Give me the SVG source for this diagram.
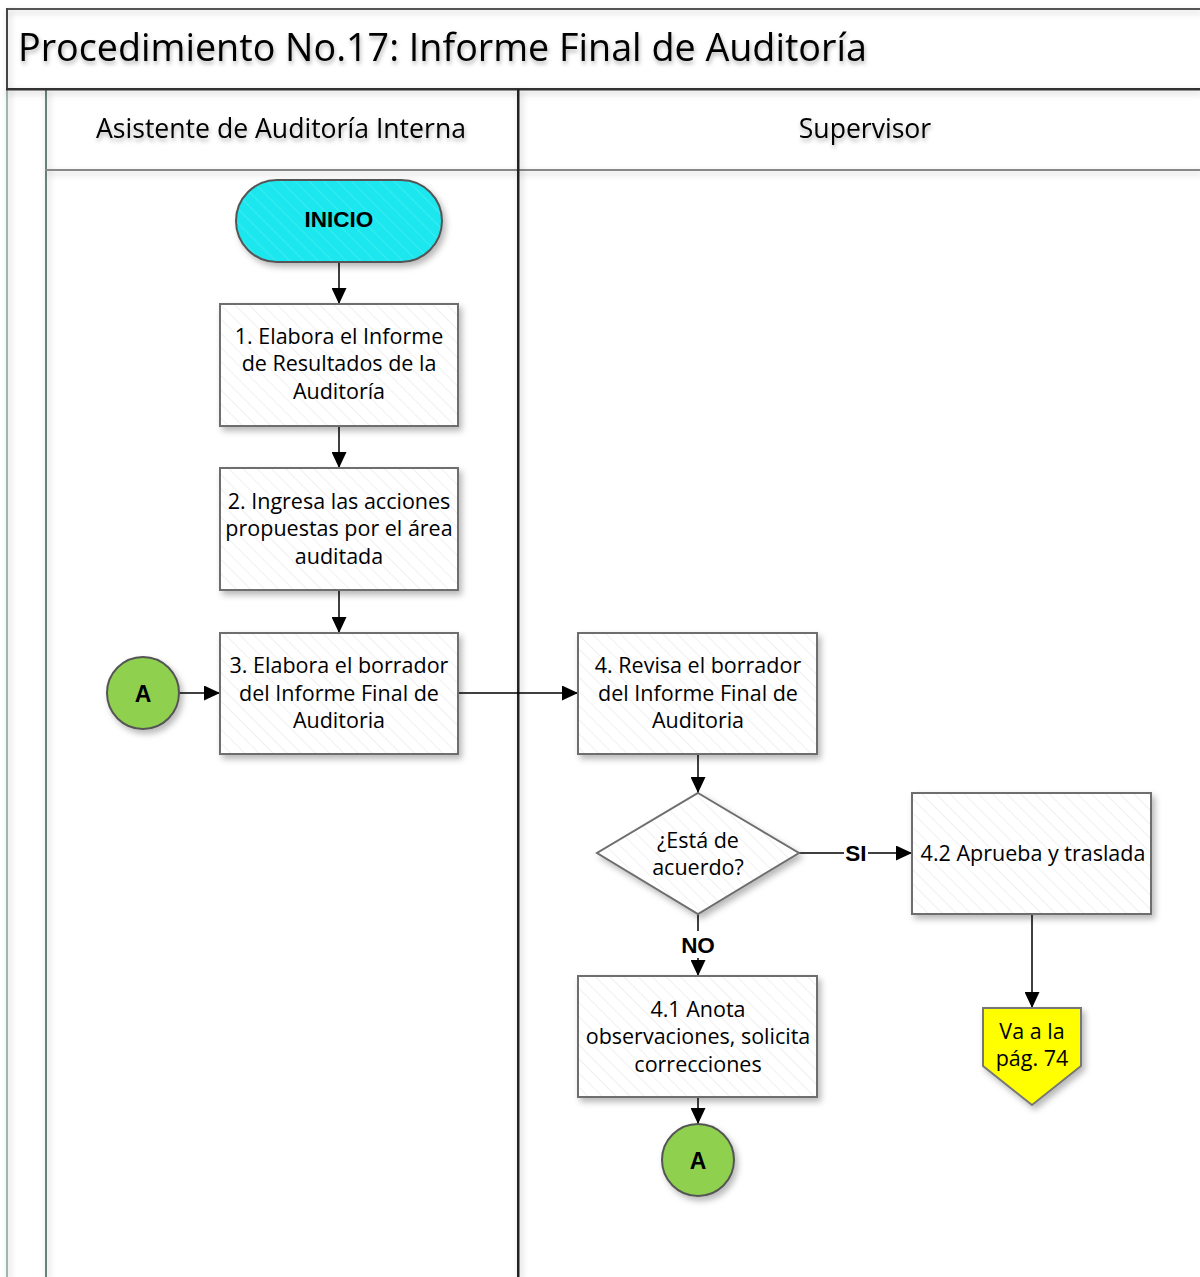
<svg xmlns="http://www.w3.org/2000/svg" width="1200" height="1277" viewBox="0 0 1200 1277">
<defs>
<style>
.t{font-family:"Open Sans","DejaVu Sans",sans-serif;fill:#000;text-anchor:middle}
.b{font-family:"Liberation Sans",Arial,sans-serif;font-weight:bold;fill:#000;text-anchor:middle}
.box{fill:url(#hatch);stroke:#6e6e6e;stroke-width:2}
.ln{fill:none;stroke:#000;stroke-width:1.5}
</style>
<pattern id="hatch" patternUnits="userSpaceOnUse" width="10" height="10" patternTransform="rotate(-45)">
<rect width="10" height="10" fill="#fff"/>
<line x1="0" y1="0" x2="0" y2="10" stroke="#ececec" stroke-width="1.5"/>
</pattern>
<pattern id="hatchc" patternUnits="userSpaceOnUse" width="10" height="10" patternTransform="rotate(-45)">
<rect width="10" height="10" fill="#1ee6ee"/>
<line x1="0" y1="0" x2="0" y2="10" stroke="#3ff0f4" stroke-width="1.5"/>
</pattern>
<filter id="sh" x="-10%" y="-10%" width="130%" height="140%">
<feDropShadow dx="3" dy="4" stdDeviation="3" flood-color="#000" flood-opacity="0.28"/>
</filter>
<filter id="psh" filterUnits="userSpaceOnUse" x="0" y="0" width="1200" height="1277">
<feDropShadow dx="2" dy="3" stdDeviation="3" flood-color="#000" flood-opacity="0.22"/>
</filter>
<filter id="tsh" x="-5%" y="-20%" width="110%" height="160%">
<feDropShadow dx="1" dy="3" stdDeviation="2" flood-color="#000" flood-opacity="0.3"/>
</filter>
<marker id="arr" viewBox="0 0 10 10" refX="10" refY="5" markerWidth="16" markerHeight="15" markerUnits="userSpaceOnUse" orient="auto" preserveAspectRatio="none">
<path d="M0,0 L10,5 L0,10 z" fill="#000"/>
</marker>
</defs>
<rect width="1200" height="1277" fill="#fff"/>

<g id="pool">
<rect x="6" y="8" width="1194" height="2" fill="#555" filter="url(#psh)"/>
<rect x="6" y="8" width="2" height="82" fill="#444" filter="url(#psh)"/>
<rect x="6" y="89" width="2" height="1188" fill="#9fb5b0" filter="url(#psh)"/>
<rect x="45" y="89" width="2" height="1188" fill="#6b817c" filter="url(#psh)"/>
<rect x="6" y="88" width="1194" height="2.5" fill="#333" filter="url(#psh)"/>
<rect x="45" y="169" width="1155" height="2" fill="#888" filter="url(#psh)"/>
<rect x="517" y="89" width="2.5" height="1188" fill="#222" filter="url(#psh)"/>
<text x="18" y="61" font-family="'Open Sans','DejaVu Sans',sans-serif" font-size="37.7" fill="#000" filter="url(#tsh)">Procedimiento No.17: Informe Final de Auditoría</text>
<text class="t" x="281" y="138" font-size="26.6" filter="url(#tsh)">Asistente de Auditoría Interna</text>
<text class="t" x="865" y="138" font-size="26.6" filter="url(#tsh)">Supervisor</text>
</g>

<g id="connectors">
<line class="ln" x1="339" y1="262" x2="339" y2="304" marker-end="url(#arr)"/>
<line class="ln" x1="339" y1="426" x2="339" y2="468" marker-end="url(#arr)"/>
<line class="ln" x1="339" y1="590" x2="339" y2="633" marker-end="url(#arr)"/>
<line class="ln" x1="179" y1="693" x2="220" y2="693" marker-end="url(#arr)"/>
<line class="ln" x1="458" y1="693" x2="578" y2="693" marker-end="url(#arr)"/>
<line class="ln" x1="698" y1="754" x2="698" y2="793" marker-end="url(#arr)"/>
<line class="ln" x1="799" y1="853" x2="844" y2="853"/>
<line class="ln" x1="868" y1="853" x2="912" y2="853" marker-end="url(#arr)"/>
<text class="b" x="856" y="861" font-size="22.5">SI</text>
<line class="ln" x1="698" y1="914" x2="698" y2="931"/>
<line class="ln" x1="698" y1="958" x2="698" y2="976" marker-end="url(#arr)"/>
<text class="b" x="698" y="953" font-size="22.5">NO</text>
<line class="ln" x1="1032" y1="914" x2="1032" y2="1008" marker-end="url(#arr)"/>
<line class="ln" x1="698" y1="1097" x2="698" y2="1124" marker-end="url(#arr)"/>
</g>

<g id="inicio">
<rect x="236" y="180" width="206" height="82" rx="41" fill="url(#hatchc)" stroke="#555" stroke-width="2" filter="url(#sh)"/>
<text class="b" x="339" y="227" font-size="22.5">INICIO</text>
</g>

<g id="n1">
<rect class="box" x="220" y="304" width="238" height="122" filter="url(#sh)"/>
<text class="t" font-size="21.5"><tspan x="339" y="344">1. Elabora el Informe</tspan><tspan x="339" y="371">de Resultados de la</tspan><tspan x="339" y="399">Auditoría</tspan></text>
</g>

<g id="n2">
<rect class="box" x="220" y="468" width="238" height="122" filter="url(#sh)"/>
<text class="t" font-size="21.5"><tspan x="339" y="509">2. Ingresa las acciones</tspan><tspan x="339" y="536">propuestas por el área</tspan><tspan x="339" y="564">auditada</tspan></text>
</g>

<g id="n3">
<rect class="box" x="220" y="633" width="238" height="121" filter="url(#sh)"/>
<text class="t" font-size="21.5"><tspan x="339" y="673">3. Elabora el borrador</tspan><tspan x="339" y="701">del Informe Final de</tspan><tspan x="339" y="728">Auditoria</tspan></text>
</g>

<g id="connA1">
<circle cx="143" cy="693" r="36" fill="#8fd14f" stroke="#555" stroke-width="2" filter="url(#sh)"/>
<text class="b" x="143" y="701.5" font-size="23">A</text>
</g>

<g id="n4">
<rect class="box" x="578" y="633" width="239" height="121" filter="url(#sh)"/>
<text class="t" font-size="21.5"><tspan x="698" y="673">4. Revisa el borrador</tspan><tspan x="698" y="701">del Informe Final de</tspan><tspan x="698" y="728">Auditoria</tspan></text>
</g>

<g id="decision">
<polygon points="698,793 799,853 698,914 597,853" fill="url(#hatch)" stroke="#6e6e6e" stroke-width="2" filter="url(#sh)"/>
<text class="t" font-size="21.5"><tspan x="698" y="848">¿Está de</tspan><tspan x="698" y="875">acuerdo?</tspan></text>
</g>

<g id="n42">
<rect class="box" x="912" y="793" width="239" height="121" filter="url(#sh)"/>
<text class="t" x="1033" y="861" font-size="21.5">4.2 Aprueba y traslada</text>
</g>

<g id="offpage">
<polygon points="983,1008 1081,1008 1081,1066 1032,1105 983,1066" fill="#ffff00" stroke="#777" stroke-width="2" filter="url(#sh)"/>
<text class="t" font-size="21.5"><tspan x="1032" y="1039">Va a la</tspan><tspan x="1032" y="1066">pág. 74</tspan></text>
</g>

<g id="n41">
<rect class="box" x="578" y="976" width="239" height="121" filter="url(#sh)"/>
<text class="t" font-size="21.5"><tspan x="698" y="1017">4.1 Anota</tspan><tspan x="698" y="1044">observaciones, solicita</tspan><tspan x="698" y="1072">correcciones</tspan></text>
</g>

<g id="connA2">
<circle cx="698" cy="1160" r="36" fill="#8fd14f" stroke="#555" stroke-width="2" filter="url(#sh)"/>
<text class="b" x="698" y="1168.5" font-size="23">A</text>
</g>
</svg>
